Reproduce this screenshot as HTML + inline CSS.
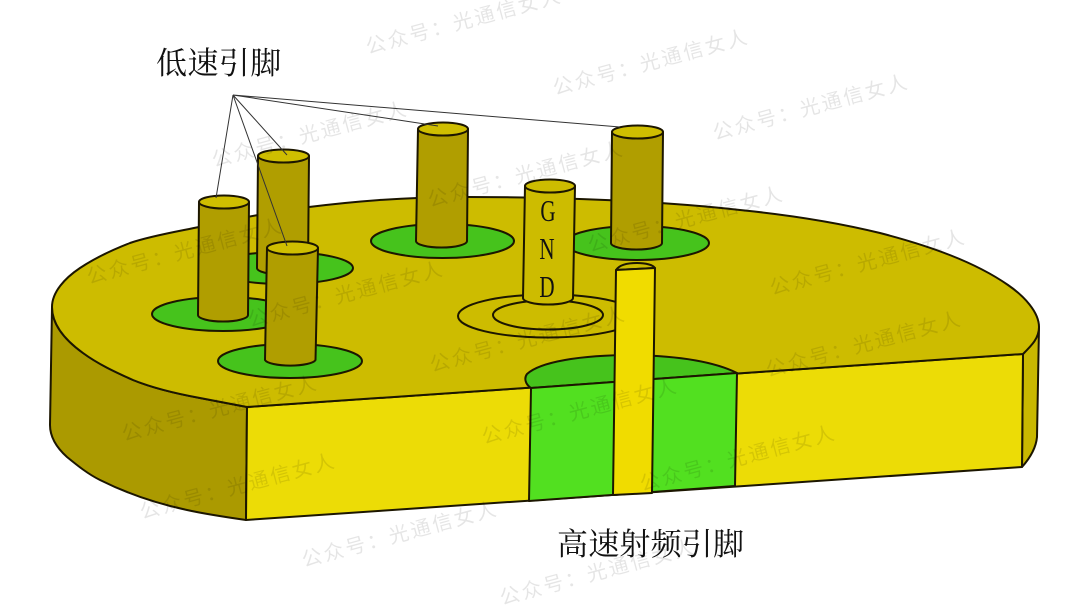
<!DOCTYPE html>
<html><head><meta charset="utf-8">
<style>
html,body{margin:0;padding:0;background:#fff;width:1080px;height:607px;overflow:hidden}
svg{display:block;filter:blur(.35px)}
.o{stroke:#1c1600;stroke-width:2;stroke-linejoin:round}
.wm{font-family:"Liberation Sans","Noto Sans CJK SC",sans-serif;font-size:20px;letter-spacing:2.5px;fill:#000;fill-opacity:.1}
.lb{font-family:"Liberation Serif","Noto Serif CJK SC",serif;font-size:31px;fill:#111}
.g{font-family:"Liberation Serif",serif;font-size:31px;fill:#111}
.l{stroke:#333;stroke-width:1;fill:none}
</style></head><body>
<svg width="1080" height="607" viewBox="0 0 1080 607" xmlns="http://www.w3.org/2000/svg">
<rect width="1080" height="607" fill="#fff"/>
<!-- body -->
<path class="o" fill="#ab9a00" d="M52 307 L50 425 C50 437 57 448 67 457 C78 466 88 474 100 480 C120 490 150 502 187 510 C205 514 225 517 246 520 L247 407 C232 404 216 401 200 398 C178 394 155 389 133 380 C115 372 98 364 83 353 C65 340 52 325 52 307Z"/>
<path class="o" fill="#c9b800" d="M1023 354 C1032 345 1039 338 1039 327 L1037 437 C1036 448 1030 458 1022 467Z"/>
<path class="o" fill="#ecdc06" d="M247 407 L1023 354 L1022 467 L246 520Z"/>
<path class="o" fill="#cdbc00" d="M247 407 L1023 354 C1032 345 1039 338 1039 327 C1039 312 1024 296 1008 285 C975 262 930 246 880 233 C835 222 790 215 740 210 C660 201 560 197 467 197 C400 197 350 202 309 207 C270 212 235 219 199 227 C180 231 150 236 130 243 C112 250 95 258 80 268 C65 278 52 292 52 307 C52 325 65 340 83 353 C98 364 115 372 133 380 C155 389 178 394 200 398 C216 401 232 404 247 407Z"/>
<!-- green pads -->
<ellipse class="o" fill="#46c31c" cx="283" cy="268" rx="70" ry="16"/>
<ellipse class="o" fill="#46c31c" cx="223" cy="314" rx="71" ry="17"/>
<ellipse class="o" fill="#46c31c" cx="290" cy="361" rx="72" ry="17"/>
<ellipse class="o" fill="#46c31c" cx="442.500" cy="241" rx="71.500" ry="17"/>
<ellipse class="o" fill="#46c31c" cx="637" cy="243" rx="72" ry="17"/>
<!-- GND rings -->
<ellipse class="o" fill="#cdbc00" cx="548" cy="316" rx="90" ry="21.500"/>
<ellipse class="o" fill="#cdbc00" cx="548" cy="315" rx="55" ry="14.500"/>
<!-- RF pad -->
<path class="o" fill="#46c31c" d="M531 388 C525 384 524 378 527 374 C540 362 580 355 633 355 C680 356 715 362 737 373Z"/>
<path class="o" fill="#52e020" d="M531 388 L737 373 L735 486 L529 501Z"/>
<!-- pins -->
<g class="o">
<path fill="#b09e00" d="M258 156 L257 268 A25.500 6.500 0 0 0 308 268 L309 156Z"/><ellipse fill="#cfbe00" cx="283.500" cy="156" rx="25.500" ry="6.500"/>
<path fill="#b09e00" d="M199 202 L198 315 A25 6.500 0 0 0 248 315 L249 202Z"/><ellipse fill="#cfbe00" cx="224" cy="202" rx="25" ry="6.500"/>
<path fill="#b09e00" d="M267 248 L265 360 A25.500 6.500 0 0 0 315.500 360 L318 248Z"/><ellipse fill="#cfbe00" cx="292.500" cy="248" rx="25.500" ry="6.500"/>
<path fill="#b09e00" d="M418 129 L416 241 A25.500 6.500 0 0 0 467 241 L468 129Z"/><ellipse fill="#cfbe00" cx="443" cy="129" rx="25" ry="6.500"/>
<path fill="#b09e00" d="M612 132 L611 243 A25.500 6.500 0 0 0 662 243 L663 132Z"/><ellipse fill="#cfbe00" cx="637.500" cy="132" rx="25.500" ry="6.500"/>
<path fill="#cdbc00" d="M525 186 L523 298 A25 6.500 0 0 0 573 298 L575 186Z"/><ellipse fill="#cdbc00" cx="550" cy="186" rx="25" ry="6.500"/>
</g>
<!-- RF strip -->
<path class="o" fill="#cdbc00" d="M616 270 C620 264 630 263 637 263 C646 263 653 265 655 268Z"/>
<path class="o" fill="#f0dc00" d="M616 270 L655 268 L652 493 L613 495Z"/>
<!-- GND letters -->
<g class="g">
<text transform="translate(548 221) scale(.68 1)" text-anchor="middle">G</text>
<text transform="translate(547 259) scale(.68 1)" text-anchor="middle">N</text>
<text transform="translate(547 297) scale(.68 1)" text-anchor="middle">D</text>
</g>
<!-- leaders -->
<path class="l" d="M233 95 L216 198 M233 95 L287 246 M233 95 L287 155 M233 95 L438 126 M233 95 L620 127"/>
<!-- labels -->
<text class="lb" x="156" y="74" letter-spacing=".4">低速引脚</text>
<text class="lb" x="557" y="555" letter-spacing=".2">高速射频引脚</text>
<!-- watermarks -->
<g class="wm">
<text transform="translate(368 54) rotate(-15)">公众号：光通信女人</text>
<text transform="translate(555 95) rotate(-15)">公众号：光通信女人</text>
<text transform="translate(715 140) rotate(-15)">公众号：光通信女人</text>
<text transform="translate(214 167) rotate(-15)">公众号：光通信女人</text>
<text transform="translate(430 207) rotate(-15)">公众号：光通信女人</text>
<text transform="translate(590 252) rotate(-15)">公众号：光通信女人</text>
<text transform="translate(772 295) rotate(-15)">公众号：光通信女人</text>
<text transform="translate(89 284) rotate(-15)">公众号：光通信女人</text>
<text transform="translate(250 327) rotate(-15)">公众号：光通信女人</text>
<text transform="translate(432 372) rotate(-15)">公众号：光通信女人</text>
<text transform="translate(768 377) rotate(-15)">公众号：光通信女人</text>
<text transform="translate(124 441) rotate(-15)">公众号：光通信女人</text>
<text transform="translate(484 444) rotate(-15)">公众号：光通信女人</text>
<text transform="translate(642 491) rotate(-15)">公众号：光通信女人</text>
<text transform="translate(142 519) rotate(-15)">公众号：光通信女人</text>
<text transform="translate(304 567) rotate(-15)">公众号：光通信女人</text>
<text transform="translate(502 605) rotate(-15)">公众号：光通信女人</text>
</g>
</svg>
</body></html>
